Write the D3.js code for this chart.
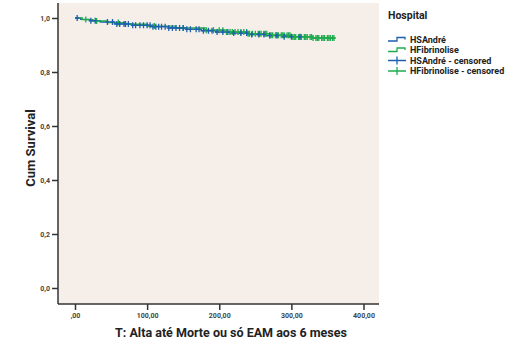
<!DOCTYPE html>
<html>
<head>
<meta charset="utf-8">
<script src="https://cdn.jsdelivr.net/npm/d3@7"></script>
<style>
  body { margin: 0; background: #fff; overflow: hidden; }
  text { font-family: Roboto, "DejaVu Sans", sans-serif; font-weight: bold; }
</style>
</head>
<body>
<div id="chart"></div>
<script>
const WIDTH = 507
const HEIGHT = 343

// Kaplan-Meier steps
const andreTimes = [0, 8, 20, 35, 55, 80, 105, 130, 155, 175, 195, 215, 240, 265, 290]
const andreSurv = [1.0, 0.995, 0.99, 0.985, 0.978, 0.973, 0.968, 0.963, 0.958, 0.953, 0.948, 0.944, 0.939, 0.935, 0.931]
const andreEnd = 318
const andreCensored = [3, 22, 28, 45, 52, 58, 62, 68, 70, 74, 80, 84, 90, 95, 100, 104, 108, 112, 116, 120, 125, 130, 135, 140, 145, 150, 155, 160, 168, 172, 178, 185, 190, 197, 205, 212, 220, 230, 238, 245, 255, 262, 270, 280, 290, 300, 312]

const fibTimes = [0, 10, 25, 45, 70, 100, 140, 180, 210, 240, 270, 300, 330]
const fibSurv = [1.0, 0.994, 0.989, 0.983, 0.977, 0.97, 0.963, 0.955, 0.948, 0.942, 0.936, 0.93, 0.926]
const fibEnd = 360
const fibCensored = [15, 30, 60, 110, 150, 182, 192, 200, 205, 210, 215, 218, 222, 226, 230, 234, 238, 240, 242, 246, 250, 254, 256, 258, 262, 264, 266, 270, 272, 274, 278, 280, 282, 286, 288, 290, 294, 296, 298, 302, 304, 306, 310, 312, 314, 318, 320, 322, 326, 328, 330, 334, 336, 338, 342, 344, 346, 350, 352, 354, 357, 359]

const xTicks = [0, 100, 200, 300, 400]
const xTickLabels = [",00", "100,00", "200,00", "300,00", "400,00"]
const yTicks = [0, 0.2, 0.4, 0.6, 0.8, 1.0]
const yTickLabels = ["0,0", "0,2", "0,4", "0,6", "0,8", "1,0"]
const legendLabels = ["HSAndré", "HFibrinolise", "HSAndré - censored", "HFibrinolise - censored"]

const BLUE = "#1d5fae"
const GREEN = "#1faa4e"

const PLOT = { left: 58, top: 3, right: 379, bottom: 304 }

const xScale = d3.scaleLinear().domain([0, 400]).range([75, 363.5])
const yScale = d3.scaleLinear().domain([0, 1]).range([288, 18])

const svg = d3.select("#chart").append("svg")
  .attr("width", WIDTH)
  .attr("height", HEIGHT)

svg.append("rect")
  .attr("x", PLOT.left).attr("y", PLOT.top)
  .attr("width", PLOT.right - PLOT.left).attr("height", PLOT.bottom - PLOT.top)
  .attr("fill", "#f6eee8")

// axes
const yAxis = d3.axisLeft(yScale).tickValues(yTicks)
  .tickFormat((d, i) => yTickLabels[i]).tickSize(6).tickPadding(2)
const gy = svg.append("g").attr("transform", `translate(${PLOT.left},0)`).call(yAxis)
gy.select(".domain").attr("d", `M0,${PLOT.top}V${PLOT.bottom}`)

const xAxis = d3.axisBottom(xScale).tickValues(xTicks)
  .tickFormat((d, i) => xTickLabels[i]).tickSize(6).tickPadding(3)
const gx = svg.append("g").attr("transform", `translate(0,${PLOT.bottom})`).call(xAxis)
gx.select(".domain").attr("d", `M${PLOT.left},0H${PLOT.right}`)

svg.selectAll(".domain").attr("stroke", "#333").attr("stroke-width", 1.5)
svg.selectAll(".tick line").attr("stroke", "#333").attr("stroke-width", 1.5)
svg.selectAll(".tick text").attr("font-size", 7).attr("fill", "#444")
  .attr("font-family", "Roboto, sans-serif").attr("font-weight", "bold")

// step curves
function stepPoints(times, surv, end) {
  const pts = times.map((t, i) => [t, surv[i]])
  pts.push([end, surv[surv.length - 1]])
  return pts
}
function survAt(times, surv, t) {
  const i = d3.bisectRight(times, t) - 1
  return surv[Math.max(0, i)]
}
const line = d3.line().x(d => xScale(d[0])).y(d => yScale(d[1])).curve(d3.curveStepAfter)

svg.append("path").datum(stepPoints(andreTimes, andreSurv, andreEnd))
  .attr("d", line).attr("fill", "none").attr("stroke", BLUE).attr("stroke-width", 1.4)
svg.append("path").datum(stepPoints(fibTimes, fibSurv, fibEnd))
  .attr("d", line).attr("fill", "none").attr("stroke", GREEN).attr("stroke-width", 1.4)

function drawCensors(times, surv, cens, color) {
  svg.append("g").selectAll("path").data(cens).enter().append("path")
    .attr("d", t => {
      const x = xScale(t), y = yScale(survAt(times, surv, t))
      return `M${x},${y - 3}V${y + 3}M${x - 2},${y}H${x + 2}`
    })
    .attr("stroke", color).attr("stroke-width", 1.3).attr("fill", "none")
}
drawCensors(fibTimes, fibSurv, fibCensored, GREEN)
drawCensors(andreTimes, andreSurv, andreCensored, BLUE)

// axis titles
svg.append("text")
  .attr("transform", "translate(35,148) rotate(-90)")
  .attr("text-anchor", "middle").attr("font-size", 13).attr("fill", "#222")
  .text("Cum Survival")
svg.append("text")
  .attr("x", 231).attr("y", 337)
  .attr("text-anchor", "middle").attr("font-size", 12.5).attr("fill", "#222")
  .text("T: Alta até Morte ou só EAM aos 6 meses")

// legend
const lg = svg.append("g").attr("transform", "translate(388,0)")
lg.append("text").attr("x", 0).attr("y", 19).attr("font-size", 10.5).attr("fill", "#222").text("Hospital")
const legendColors = [BLUE, GREEN, BLUE, GREEN]
legendLabels.forEach((lab, i) => {
  const y = 39.5 + i * 10.5
  const c = legendColors[i]
  if (i < 2) {
    lg.append("path").attr("d", `M0,${y + 1.5}H9V${y - 2}H17V${y}`)
      .attr("fill", "none").attr("stroke", c).attr("stroke-width", 1.3)
  } else {
    lg.append("path").attr("d", `M0,${y}H18M9,${y - 4}V${y + 4}`)
      .attr("fill", "none").attr("stroke", c).attr("stroke-width", 1.3)
  }
  lg.append("text").attr("x", 22).attr("y", y + 3).attr("font-size", 9).attr("fill", "#222").text(lab)
})
</script>
</body>
</html>
